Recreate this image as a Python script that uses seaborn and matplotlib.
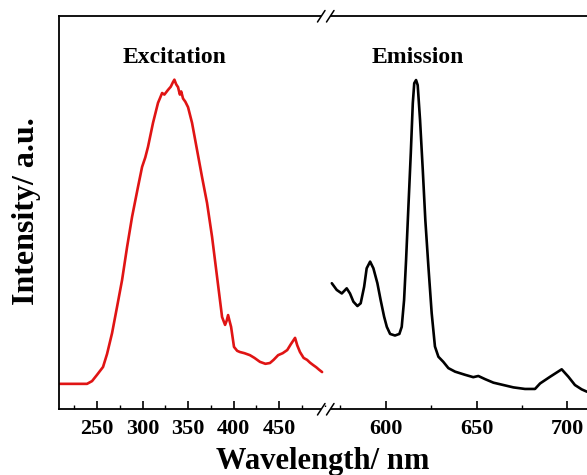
import matplotlib
matplotlib.use("Agg")
import matplotlib.pyplot as plt
import seaborn as sns
import pandas as pd
from matplotlib.lines import Line2D
from matplotlib.patches import Rectangle
from matplotlib.ticker import MultipleLocator

# ---------------- data ----------------
ex_wl = [209, 239, 244.5, 250, 256.6, 261, 266.5, 272, 277.5, 283, 288.5, 295, 299.5, 303, 306,
         311.5, 317, 319, 321.5, 324, 328, 331, 333.5, 335, 337, 339, 341, 342.5, 344.5, 347,
         350, 354.4, 359.9, 365.4, 370.9, 376.4, 381.9, 387.4, 390.7, 392.5, 394, 395.5, 397.3,
         400.5, 404, 407, 412, 418, 423, 429, 435, 440, 444, 449, 454, 459, 463, 467.6, 470,
         473, 477, 480.8, 484, 487.4, 491, 494, 497.3]
ex_int = [0.064, 0.064, 0.071, 0.087, 0.107, 0.140, 0.193, 0.260, 0.328, 0.412, 0.489, 0.565,
          0.616, 0.640, 0.667, 0.728, 0.779, 0.790, 0.804, 0.800, 0.812, 0.820, 0.832, 0.838,
          0.826, 0.819, 0.800, 0.808, 0.790, 0.782, 0.768, 0.728, 0.659, 0.590, 0.524, 0.438,
          0.336, 0.234, 0.214, 0.225, 0.239, 0.225, 0.209, 0.158, 0.148, 0.145, 0.142, 0.137,
          0.130, 0.120, 0.115, 0.117, 0.125, 0.137, 0.142, 0.150, 0.165, 0.181, 0.162, 0.145,
          0.130, 0.125, 0.118, 0.112, 0.106, 0.100, 0.094]

em_wl = [570.3, 573.0, 575.8, 578.5, 580.3, 582.2, 584.4, 586.2, 588.1, 589.5, 591.4, 593.2,
         595.4, 597.2, 599.1, 600.6, 602.4, 605.1, 607.5, 608.8, 610.1, 611.2, 612.4, 613.8,
         614.9, 615.7, 616.7, 617.6, 618.9, 620.4, 621.8, 623.5, 625.3, 627.1, 629.0, 631.7,
         634.5, 638.2, 643.7, 648.2, 651.0, 654.7, 659.3, 664.8, 670.3, 676.7, 682.2, 685.0,
         690.5, 696.9, 700.6, 704.2, 707.9, 710.8]
em_int = [0.320, 0.303, 0.294, 0.307, 0.294, 0.273, 0.262, 0.269, 0.311, 0.358, 0.375, 0.358,
          0.320, 0.277, 0.235, 0.209, 0.191, 0.187, 0.191, 0.209, 0.277, 0.379, 0.506, 0.651,
          0.778, 0.829, 0.837, 0.824, 0.735, 0.608, 0.481, 0.362, 0.244, 0.159, 0.133, 0.120,
          0.104, 0.095, 0.087, 0.081, 0.084, 0.076, 0.067, 0.061, 0.055, 0.051, 0.051, 0.065,
          0.082, 0.101, 0.082, 0.061, 0.050, 0.044]

left_ticks = [250, 300, 350, 400, 450]
right_ticks = [600, 650, 700]

ex_df = pd.DataFrame({"Wavelength": ex_wl, "Intensity": ex_int})
em_df = pd.DataFrame({"Wavelength": em_wl, "Intensity": em_int})

# ---------------- style ----------------
sns.set_style("ticks")
plt.rcParams["font.family"] = ["Liberation Serif", "DejaVu Serif"]
plt.rcParams["font.weight"] = "bold"
plt.rcParams["text.color"] = "black"
plt.rcParams["xtick.color"] = "black"
plt.rcParams["axes.edgecolor"] = "black"

W, H = 587, 475
fig = plt.figure(figsize=(W / 100, H / 100), dpi=100)

def fx(px):
    return px / W

def fy(py):
    return 1 - py / H

bot, top = 409, 16
axL = fig.add_axes([fx(59), fy(bot), (326 - 59) / W, (bot - top) / H])
axR = fig.add_axes([fx(326), fy(bot), (600 - 326) / W, (bot - top) / H])

sns.lineplot(data=ex_df, x="Wavelength", y="Intensity", ax=axL, color="#e01414",
             linewidth=1.9, sort=False, estimator=None)
sns.lineplot(data=em_df, x="Wavelength", y="Intensity", ax=axR, color="black",
             linewidth=1.9, sort=False, estimator=None)

axL.set_xlim(208.2, 501.6)
axR.set_xlim(567.1, 718)
for ax in (axL, axR):
    ax.set_ylim(0, 1)
    ax.set_xlabel("")
    ax.set_ylabel("")
    ax.set_yticks([])
    for s in ax.spines.values():
        s.set_linewidth(1.3)
        s.set_color("black")
    ax.tick_params(axis="x", which="major", direction="in", length=6, width=1.2,
                   labelsize=16, pad=7, top=False, colors="black")
    ax.tick_params(axis="x", which="minor", direction="in", length=3, width=1.0, top=False,
                   colors="black")
    ax.xaxis.set_minor_locator(MultipleLocator(25))
    ax.patch.set_alpha(0)

axL.set_xticks(left_ticks)
axR.set_xticks(right_ticks)
axL.set_xticklabels([str(t) for t in left_ticks], fontweight="bold", fontsize=16, color="black")
axR.set_xticklabels([str(t) for t in right_ticks], fontweight="bold", fontsize=16, color="black")
axL.spines["right"].set_visible(False)
axR.spines["left"].set_visible(False)
axR.spines["right"].set_visible(False)

# break marks
for yc in (bot, top):
    fig.add_artist(Rectangle((fx(321), fy(yc + 2)), 9 / W, 4 / H, transform=fig.transFigure,
                             facecolor="white", edgecolor="none", zorder=10))
    for x0 in (317.5, 326.5):
        fig.add_artist(Line2D([fx(x0), fx(x0 + 7.5)], [fy(yc + 6), fy(yc - 5.5)],
                              transform=fig.transFigure, color="black", linewidth=1.1, zorder=11))

# texts
fig.text(fx(174.5), fy(63), "Excitation", ha="center", va="baseline", fontsize=17,
         fontweight="bold", color="black")
fig.text(fx(417.5), fy(63), "Emission", ha="center", va="baseline", fontsize=17,
         fontweight="bold", color="black")
fig.text(fx(323), fy(469), "Wavelength/ nm", ha="center", va="baseline", fontsize=22,
         fontweight="bold", color="black")
fig.text(fx(27), fy(211), "Intensity/ a.u.", ha="center", va="center", rotation=90,
         fontsize=23, fontweight="bold", color="black")

fig.savefig("out.png", dpi=100)
